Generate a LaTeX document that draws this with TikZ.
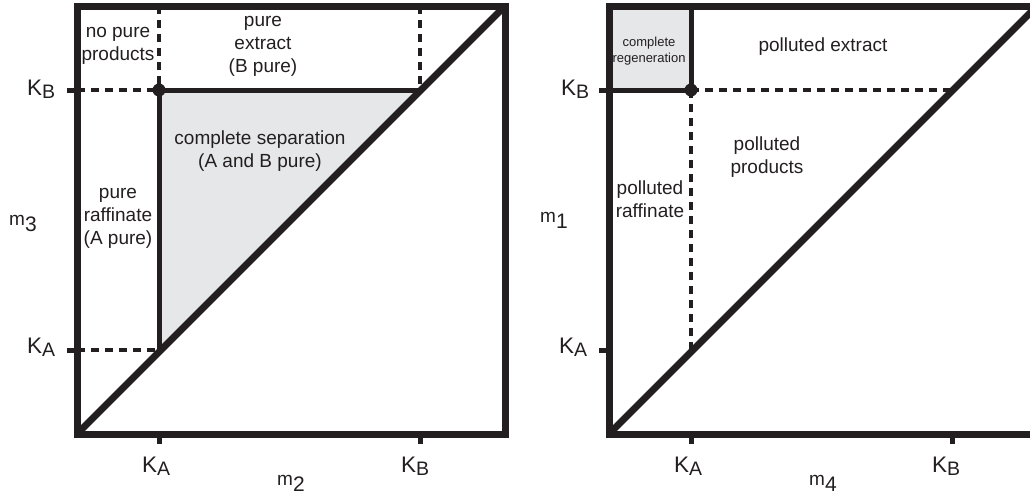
\documentclass[tikz,border=0pt]{standalone}
\usepackage{fontspec}
\setmainfont{Liberation Sans}
\definecolor{ink}{HTML}{231F20}
\definecolor{regiongray}{HTML}{E6E7E8}
\newcommand{\Klab}[1]{K\raisebox{-3.5pt}{\fontsize{19.5}{19.5}\selectfont #1}}
\newcommand{\mlab}[1]{m\raisebox{-6.5pt}{\fontsize{21}{21}\selectfont #1}}
\begin{document}
\begin{tikzpicture}[x=1pt,y=-1pt,
  frame/.style={draw=ink, line width=7pt, line join=miter},
  diag/.style={draw=ink, line width=7pt},
  bound/.style={draw=ink, line width=5pt},
  dashln/.style={draw=ink, line width=3.5pt, dash pattern=on 8pt off 6pt},
  tickln/.style={draw=ink, line width=5pt},
  region/.style={text=ink, font=\fontsize{19}{23}\selectfont, align=center, inner sep=0pt},
  smallregion/.style={text=ink, font=\fontsize{13}{16}\selectfont, align=center, inner sep=0pt},
  klab/.style={text=ink, font=\fontsize{22.5}{22.5}\selectfont, inner sep=0pt, anchor=base west},
  mlab/.style={text=ink, font=\fontsize{19}{19}\selectfont, inner sep=0pt, anchor=base west}]
\useasboundingbox (0,0) rectangle (1030,496);
\clip (0,0) rectangle (1030,496);

% ---------------- left panel ----------------
\coordinate (LBL) at (77,434);
\coordinate (LTR) at (505,6);
\coordinate (LTL) at (77,6);
\coordinate (LBR) at (505,434);
\coordinate (Ldot) at (159,90);
\coordinate (LKBdiag) at (421,90);
\coordinate (LKAdiag) at (159,352);
\coordinate (LtopA) at (159,6);
\coordinate (LtopB) at (420,6);
\coordinate (LKBv) at (420,90);
\coordinate (LyB) at (77,90);
\coordinate (LyA) at (77,350);
\coordinate (LKAh) at (159,350);
\coordinate (LtyB) at (67,90);
\coordinate (LtyA) at (67,350);
\coordinate (LxA) at (159,434);
\coordinate (LxB) at (420,434);
\coordinate (LtxA) at (159,444);
\coordinate (LtxB) at (420,444);

\fill[regiongray] (Ldot) -- (LKBdiag) -- (LKAdiag) -- cycle;
\draw[dashln] (LyB) -- (Ldot);
\draw[dashln] (LtopA) -- (Ldot);
\draw[dashln] (LtopB) -- (LKBv);
\draw[dashln] (LyA) -- (LKAh);
\draw[bound] (Ldot) -- (LKBdiag);
\draw[bound] (Ldot) -- (LKAdiag);
\begin{scope}
  \clip (LTL) rectangle (LBR);
  \draw[diag] (LBL) -- (LTR);
\end{scope}
\draw[tickln] (LtyB) -- (LyB);
\draw[tickln] (LtyA) -- (LyA);
\draw[tickln] (LxA) -- (LtxA);
\draw[tickln] (LxB) -- (LtxB);
\draw[frame] (LTL) rectangle (LBR);
\fill[ink] (Ldot) circle (6.5);

\node[region] (np) at (118,46) {no pure\\products};
\node[region] (pe) at (263,46) {pure\\extract\\(B pure)};
\node[region] (cs) at (260,151) {complete separation\\(A and B pure)};
\node[region] (pr) at (118,218) {pure\\raffinate\\(A pure)};

\node[klab] (lkb) at (27,95) {\Klab{B}};
\node[klab] (lka) at (27,353) {\Klab{A}};
\node[klab] (bka) at (142,472) {\Klab{A}};
\node[klab] (bkb) at (401,472) {\Klab{B}};
\node[mlab] (m2) at (277,485) {\mlab{2}};
\node[mlab] (m3) at (9,225) {\mlab{3}};

% ---------------- right panel ----------------
\coordinate (RBL) at (609,434);
\coordinate (RTR) at (1037,6);
\coordinate (RTL) at (609,6);
\coordinate (RBR) at (1037,434);
\coordinate (Rdot) at (691,90);
\coordinate (RtopA) at (691,6);
\coordinate (RyB) at (609,90);
\coordinate (RyA) at (609,350);
\coordinate (RKBdiag) at (953,90);
\coordinate (RKAdiag) at (691,352);
\coordinate (RtyB) at (599,90);
\coordinate (RtyA) at (599,350);
\coordinate (RxA) at (691,434);
\coordinate (RxB) at (952,434);
\coordinate (RtxA) at (691,444);
\coordinate (RtxB) at (952,444);

\fill[regiongray] (RTL) rectangle (Rdot);
\draw[dashln] (Rdot) -- (RKBdiag);
\draw[dashln] (Rdot) -- (RKAdiag);
\draw[bound] (RyB) -- (Rdot);
\draw[bound] (RtopA) -- (Rdot);
\begin{scope}
  \clip (RTL) rectangle (RBR);
  \draw[diag] (RBL) -- (RTR);
\end{scope}
\draw[tickln] (RtyB) -- (RyB);
\draw[tickln] (RtyA) -- (RyA);
\draw[tickln] (RxA) -- (RtxA);
\draw[tickln] (RxB) -- (RtxB);
\draw[frame] (RTL) rectangle (RBR);
\fill[ink] (Rdot) circle (6.5);

\node[smallregion] (cr) at (649,51) {complete\\regeneration};
\node[region] (pex) at (823,47) {polluted extract};
\node[region] (pp) at (767,157) {polluted\\products};
\node[region] (praf) at (650,199) {polluted\\raffinate};

\node[klab] (rkb) at (561,95) {\Klab{B}};
\node[klab] (rka) at (559,353) {\Klab{A}};
\node[klab] (rbka) at (674,472) {\Klab{A}};
\node[klab] (rbkb) at (932,472) {\Klab{B}};
\node[mlab] (m4) at (809,485) {\mlab{4}};
\node[mlab] (m1) at (540,222) {\mlab{1}};
\end{tikzpicture}
\end{document}
